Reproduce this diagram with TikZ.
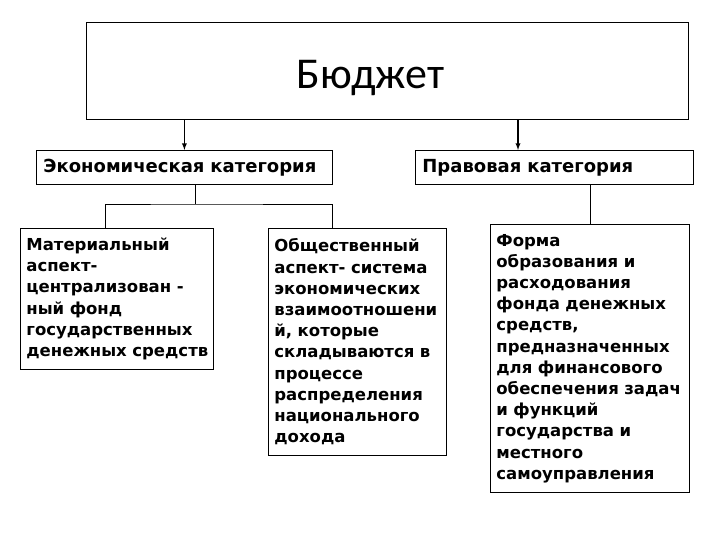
\documentclass[tikz,border=0pt]{standalone}
\usepackage{fontspec}
\setmainfont{DejaVu Sans}
\newfontfamily\budgetfont{Carlito}
\usetikzlibrary{arrows,calc}
\tikzset{
  box/.style={draw, line width=0.8pt, anchor=north west, inner sep=0pt},
  catbox/.style={box, align=left, text width=#1-14pt, inner xsep=7pt, minimum height=34pt, font=\bfseries\fontsize{18}{22}\selectfont},
  leafbox/.style={box, align=left, text width=#1-12pt, inner xsep=6pt, font=\bfseries\fontsize{16.5}{21.2}\selectfont}
}
\begin{document}
\begin{tikzpicture}[x=1pt,y=-1pt,line width=0.8pt]
			\useasboundingbox (0,0) rectangle (720,540);
			\node[box, minimum width=602pt, minimum height=97pt, text height=36pt, text depth=0pt, font=\budgetfont\fontsize{44}{48}\selectfont] (budget) at (86,22) {Бюджет\kern34pt};
			\node[catbox=296pt] (econ) at (36,150) {Экономическая категория};
			\node[catbox=278pt] (pravo) at (415,150) {Правовая категория};
			\node[leafbox=193pt, minimum height=141pt] (mat) at (20,228) {Материальный\\ аспект-\\ централизован -\\ ный фонд\\ государственных\\ денежных~средств};
			\node[leafbox=178pt, minimum height=227pt] (obsh) at (268,228) {Общественный\\ аспект- система\\ экономических\\ взаимоотношени\\ й, которые\\ складываются в\\ процессе\\ распределения\\ национального\\ дохода};
			\node[leafbox=199pt, minimum height=268pt] (forma) at (490,224) {Форма\\ образования и\\ расходования\\ фонда денежных\\ средств,\\ предназначенных\\ для финансового\\ обеспечения~задач\\ и функций\\ государства и\\ местного\\ самоуправления};
			% arrows from the top box
			\coordinate (pin) at ([xshift=103pt]pravo.north west);
			\draw[->,>=latex,line width=1.3pt] (budget.south -| econ.north) -- (econ.north);
			\draw[->,>=latex,line width=1.3pt] (budget.south -| pin) -- (pin);
			% branches
			\coordinate (fork) at (195,204);
			\draw (econ.south -| fork) -- (fork);
			\draw ([xshift=85pt]mat.north west) |- (fork) -| ([xshift=64pt]obsh.north west);
			\draw (forma.north) -- (forma.north |- pravo.south);
		\end{tikzpicture}
\end{document}
